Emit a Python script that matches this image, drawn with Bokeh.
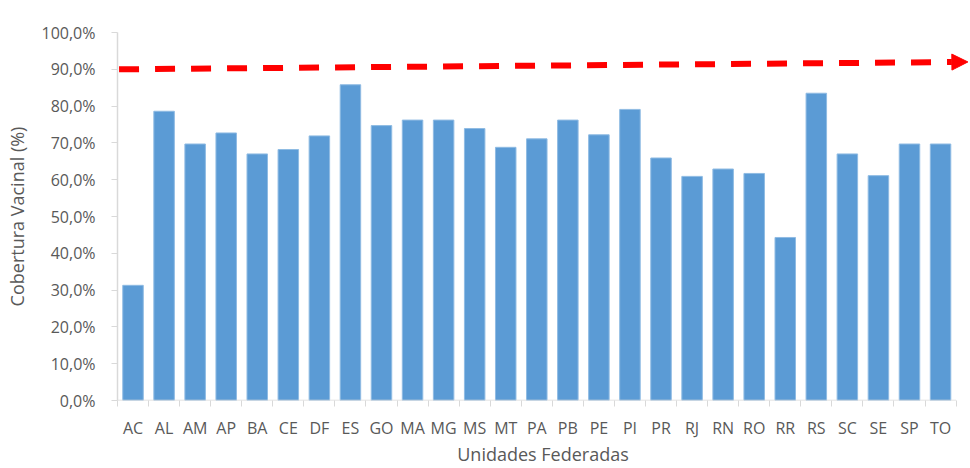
from bokeh.plotting import figure
from bokeh.models import FixedTicker, Arrow, NormalHead, Range1d, ColumnDataSource
from bokeh.embed import file_html
from bokeh.resources import INLINE

categories = ["AC", "AL", "AM", "AP", "BA", "CE", "DF", "ES", "GO", "MA", "MG", "MS", "MT",
              "PA", "PB", "PE", "PI", "PR", "RJ", "RN", "RO", "RR", "RS", "SC", "SE", "SP", "TO"]
coverage = [31.3, 78.6, 69.7, 72.7, 67.0, 68.2, 71.9, 85.8, 74.7, 76.2, 76.2, 73.9, 68.8,
            71.1, 76.2, 72.2, 79.1, 65.9, 60.9, 62.9, 61.7, 44.3, 83.5, 67.0, 61.1, 69.7, 69.7]
y_ticks = [0, 10, 20, 30, 40, 50, 60, 70, 80, 90, 100]
target_start = 90.0   # meta de cobertura
target_end = 92.0

n = len(categories)
xs = list(range(n))
FONT = "Open Sans"
GREY = "#595959"
AXIS = "#d9d9d9"

p = figure(width=968, height=468, output_backend="svg", toolbar_location=None,
           x_range=Range1d(-0.5, n - 0.1), y_range=Range1d(0, 100),
           min_border_left=117, min_border_right=0, min_border_top=32, min_border_bottom=67)
p.outline_line_color = None
p.xgrid.visible = False
p.ygrid.visible = False

src = ColumnDataSource(dict(x=xs, top=coverage))
p.vbar(x="x", top="top", width=0.66, bottom=0, source=src,
       fill_color="#5b9bd5", line_color="#8fbbe3", line_width=1)

# x axis baseline spanning categories only
p.segment(x0=[-0.5], x1=[n - 0.5], y0=[0], y1=[0], line_color=AXIS, line_width=1.5)

# arrow (meta)
p.add_layout(Arrow(x_start=-0.45, y_start=target_start, x_end=n - 0.12, y_end=target_end,
                   line_color="#ff0000", line_width=6, line_dash="20 16", line_cap="butt",
                   end=NormalHead(size=16, fill_color="#ff0000", line_color="#ff0000", line_width=1)))

xa = p.xaxis[0]
xa.ticker = FixedTicker(ticks=xs, minor_ticks=[i - 0.5 for i in range(n + 1)])
xa.major_label_overrides = {i: c for i, c in enumerate(categories)}
xa.axis_line_color = None
xa.major_tick_line_color = None
xa.major_tick_out = 0
xa.minor_tick_line_color = AXIS
xa.minor_tick_out = 6
xa.minor_tick_in = 0
xa.major_label_standoff = 10
xa.major_label_text_font = FONT
xa.major_label_text_font_size = "16px"
xa.major_label_text_color = GREY
xa.axis_label = "Unidades Federadas"
xa.axis_label_text_font = FONT
xa.axis_label_text_font_size = "18px"
xa.axis_label_text_font_style = "normal"
xa.axis_label_text_color = GREY
xa.axis_label_standoff = 0

ya = p.yaxis[0]
ya.ticker = FixedTicker(ticks=y_ticks)
ya.major_label_overrides = {v: f"{v:.1f}".replace(".", ",") + "%" for v in y_ticks}
ya.axis_line_color = AXIS
ya.axis_line_width = 1.5
ya.major_tick_line_color = AXIS
ya.major_tick_out = 6
ya.major_tick_in = 0
ya.minor_tick_line_color = None
ya.major_label_standoff = 16
ya.major_label_text_font = FONT
ya.major_label_text_font_size = "16px"
ya.major_label_text_color = GREY
ya.axis_label = "Cobertura Vacinal (%)"
ya.axis_label_text_font = FONT
ya.axis_label_text_font_size = "18px"
ya.axis_label_text_font_style = "normal"
ya.axis_label_text_color = GREY
ya.axis_label_standoff = 10

open("out.html", "w").write(file_html(p, INLINE))
